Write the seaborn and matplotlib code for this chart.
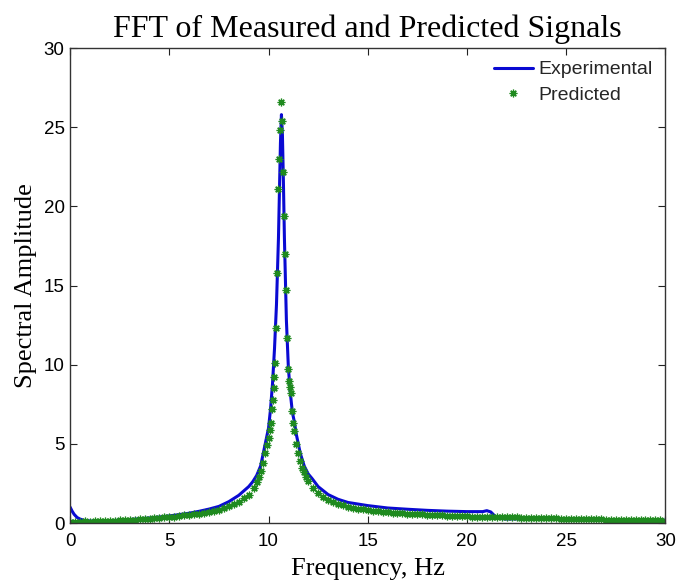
import matplotlib
matplotlib.use("Agg")
import matplotlib.pyplot as plt
import seaborn as sns
import pandas as pd

# ---------------- data ----------------
exp_freq = [0.0, 0.1, 0.2, 0.35, 0.5, 0.7, 1.0, 1.5, 2.0, 2.5, 3.0, 3.5, 4.0, 4.5,
            5.0, 5.5, 6.0, 6.5, 7.0, 7.5, 8.0, 8.5, 9.0, 9.2, 9.4, 9.6, 9.8, 10.0,
            10.1, 10.2, 10.3, 10.4, 10.5, 10.55, 10.6, 10.65, 10.7, 10.75, 10.8,
            10.9, 11.0, 11.1, 11.2, 11.3, 11.4, 11.6, 11.8, 12.0, 12.2, 12.5, 13.0,
            13.5, 14.0, 15.0, 16.0, 17.0, 18.0, 19.0, 20.0, 20.8, 21.0, 21.2, 21.4,
            21.6, 22.0, 22.5, 23.0, 24.0, 25.0, 26.0, 27.0, 28.0, 29.0, 30.0]
exp_amp = [1.0, 0.75, 0.55, 0.35, 0.25, 0.17, 0.13, 0.13, 0.15, 0.18, 0.22, 0.27,
           0.32, 0.38, 0.45, 0.53, 0.62, 0.74, 0.88, 1.05, 1.35, 1.75, 2.3, 2.6,
           3.0, 3.6, 4.8, 6.0, 7.2, 8.8, 11.0, 13.8, 18.0, 21.0, 24.0, 25.8, 24.5,
           21.5, 18.0, 12.8, 9.8, 8.2, 7.0, 6.4, 5.6, 4.4, 3.6, 3.1, 2.8, 2.3, 1.8,
           1.5, 1.3, 1.1, 0.95, 0.87, 0.8, 0.75, 0.72, 0.72, 0.78, 0.7, 0.45, 0.3,
           0.25, 0.26, 0.27, 0.26, 0.25, 0.24, 0.22, 0.21, 0.2, 0.18]

pred_freq = [
    0.0, 0.25, 0.5, 0.75, 1.0, 1.25, 1.5, 1.75,
    2.0, 2.25, 2.5, 2.75, 3.0, 3.25, 3.5, 3.75,
    4.0, 4.25, 4.5, 4.75, 5.0, 5.25, 5.5, 5.75,
    6.0, 6.25, 6.5, 6.75, 7.0, 7.25, 7.5, 7.75,
    8.0, 8.25, 8.5, 8.75, 9.0, 9.25,
    9.4, 9.5, 9.6, 9.7, 9.8, 9.9,
    10.0, 10.05, 10.1, 10.15, 10.2, 10.25, 10.3, 10.35, 10.4,
    10.45, 10.5, 10.55, 10.6, 10.65, 10.7, 10.75, 10.8, 10.85,
    10.9, 10.95, 11.0, 11.05, 11.1, 11.15, 11.2, 11.25, 11.3,
    11.4, 11.5, 11.6, 11.7, 11.8, 11.9, 12.0,
    12.25, 12.5, 12.75, 13.0, 13.25, 13.5, 13.75, 14.0,
    14.25, 14.5, 14.75, 15.0, 15.25, 15.5, 15.75, 16.0,
    16.25, 16.5, 16.75, 17.0, 17.25, 17.5, 17.75, 18.0,
    18.25, 18.5, 18.75, 19.0, 19.25, 19.5, 19.75, 20.0,
    20.25, 20.5, 20.75, 21.0, 21.25, 21.5, 21.75, 22.0,
    22.25, 22.5, 22.75, 23.0, 23.25, 23.5, 23.75, 24.0,
    24.25, 24.5, 24.75, 25.0, 25.25, 25.5, 25.75, 26.0,
    26.25, 26.5, 26.75, 27.0, 27.25, 27.5, 27.75, 28.0,
    28.25, 28.5, 28.75, 29.0, 29.25, 29.5, 29.75, 30.0]
pred_amp = [
    0.05, 0.08, 0.06, 0.1, 0.08, 0.12, 0.1, 0.13,
    0.14, 0.12, 0.17, 0.16, 0.2, 0.19, 0.23, 0.25,
    0.27, 0.3, 0.31, 0.35, 0.38, 0.41, 0.44, 0.49,
    0.52, 0.55, 0.6, 0.64, 0.68, 0.74, 0.82, 0.93,
    1.05, 1.2, 1.35, 1.55, 1.8, 2.2,
    2.6, 2.9, 3.3, 3.8, 4.4, 4.9,
    5.4, 5.9, 6.3, 7.2, 7.8, 8.5, 9.2, 10.1, 12.3,
    15.8, 21.1, 23.0, 24.8, 26.6, 25.4, 22.2, 19.4, 17.0,
    14.7, 11.7, 9.7, 9.0, 8.6, 8.2, 7.1, 6.3, 5.8,
    5.0, 4.4, 3.9, 3.5, 3.2, 2.9, 2.65,
    2.2, 1.9, 1.65, 1.48, 1.33, 1.2, 1.12, 1.03,
    0.97, 0.9, 0.86, 0.8, 0.78, 0.73, 0.72, 0.68,
    0.66, 0.62, 0.62, 0.59, 0.57, 0.56, 0.55, 0.53,
    0.5, 0.5, 0.48, 0.47, 0.46, 0.44, 0.44, 0.43,
    0.41, 0.41, 0.4, 0.39, 0.38, 0.37, 0.36, 0.37,
    0.35, 0.35, 0.33, 0.33, 0.32, 0.32, 0.3, 0.3,
    0.29, 0.29, 0.28, 0.27, 0.28, 0.26, 0.26, 0.25,
    0.25, 0.23, 0.24, 0.22, 0.22, 0.21, 0.21, 0.2,
    0.2, 0.19, 0.19, 0.18, 0.17, 0.17, 0.16, 0.15]

x_ticks = [0, 5, 10, 15, 20, 25, 30]
y_ticks = [0, 5, 10, 15, 20, 25, 30]

title_text = "FFT of Measured and Predicted Signals"
x_label = "Frequency, Hz"
y_label = "Spectral Amplitude"
series_labels = ["Experimental", "Predicted"]

# ---------------- plotting ----------------
sns.set_theme(style="white")
plt.rcParams["font.family"] = ["Liberation Sans", "DejaVu Sans"]

exp_df = pd.DataFrame({"f": exp_freq, "a": exp_amp})
pred_df = pd.DataFrame({"f": pred_freq, "a": pred_amp})

fig = plt.figure(figsize=(6.81, 5.87), dpi=100)
ax = fig.add_axes([0.103, 0.109, 0.874, 0.809])

blue = "#0a0ad2"
green = "#1f8a1f"
sns.lineplot(data=exp_df, x="f", y="a", ax=ax, color=blue, linewidth=2.2,
             estimator=None, sort=False, label=series_labels[0])
sns.lineplot(data=pred_df, x="f", y="a", ax=ax, color=green, linestyle="",
             marker=(8, 2, 0), markersize=5.5, markeredgewidth=0.9,
             markeredgecolor=green, markerfacecolor=green,
             estimator=None, sort=False, label=series_labels[1])

ax.set_xlim(0, 30)
ax.set_ylim(0, 30)
ax.set_xticks(x_ticks)
ax.set_yticks(y_ticks)
ax.set_xticklabels([str(t) for t in x_ticks])
ax.set_yticklabels([str(t) for t in y_ticks])

ax.tick_params(direction="in", length=5, width=0.8, colors="#222222",
               labelsize=13.5, top=True, right=True, bottom=True, left=True,
               labelcolor="black", pad=4)
ax.tick_params(axis="x", pad=7)
for s in ax.spines.values():
    s.set_visible(True)
    s.set_color("#333333")
    s.set_linewidth(1.0)

serif = ["Liberation Serif", "DejaVu Serif"]
ax.set_title(title_text, family=serif, fontsize=23, pad=8, color="black")
ax.set_xlabel(x_label, family=serif, fontsize=19, labelpad=6, color="black")
ax.set_ylabel(y_label, family=serif, fontsize=19, labelpad=5, color="black")

leg = ax.legend(loc="upper right", frameon=False, fontsize=14,
                handlelength=2.0, handletextpad=0.3, borderaxespad=0.35,
                borderpad=0.3, labelspacing=0.4)

fig.savefig("out.png", dpi=100, facecolor="white")
